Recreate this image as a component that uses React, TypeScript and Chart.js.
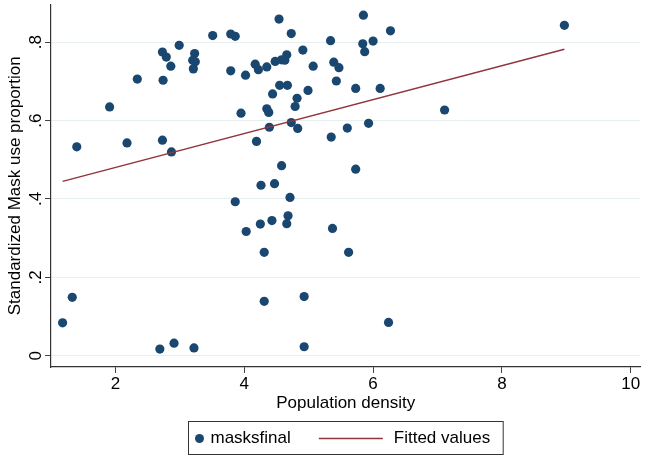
import React, { useEffect, useRef } from "react";
import { Chart, registerables } from "chart.js";

Chart.register(...registerables);

const FONT = "'Liberation Sans', Arial, Helvetica, sans-serif";

// Population density (x) and standardized mask use proportion (y)
const densityX = [
  1.40, 1.91, 2.18, 2.34, 2.73, 2.87, 2.74, 2.73, 2.79, 2.86, 2.99, 3.23, 3.20, 3.24, 3.21, 3.51,
  3.79, 3.86, 4.54, 4.73, 5.34, 5.85, 5.84, 6.00, 6.27, 5.87, 4.91, 4.66, 4.63, 4.58, 4.48, 4.35,
  4.22, 4.17, 3.79, 4.02, 5.07, 5.39, 5.47, 5.43, 4.55, 4.67, 4.44, 4.99, 4.82, 4.79, 5.73, 6.11,
  3.95, 4.35, 4.38, 4.39, 4.73, 4.83, 4.19, 5.35, 5.60, 5.93, 4.58, 5.73, 4.26, 4.47, 4.71, 3.86,
  4.68, 4.43, 4.25, 4.66, 4.03, 5.37, 4.31, 5.62, 4.93, 4.31, 6.24, 4.93,
  1.18, 1.33, 2.69, 2.91, 3.22, 8.97, 7.11,
];
const maskY = [
  0.533, 0.635, 0.543, 0.706, 0.550, 0.520, 0.703, 0.775, 0.762, 0.739, 0.792, 0.771, 0.754, 0.750, 0.732, 0.817,
  0.821, 0.815, 0.859, 0.822, 0.804, 0.869, 0.796, 0.803, 0.829, 0.776, 0.780, 0.768, 0.754, 0.755, 0.751, 0.737,
  0.730, 0.744, 0.727, 0.716, 0.739, 0.749, 0.735, 0.701, 0.690, 0.690, 0.668, 0.677, 0.657, 0.636, 0.682, 0.682,
  0.619, 0.630, 0.621, 0.583, 0.595, 0.580, 0.547, 0.558, 0.581, 0.593, 0.485, 0.476, 0.435, 0.439, 0.404, 0.393,
  0.357, 0.345, 0.336, 0.337, 0.317, 0.325, 0.264, 0.264, 0.151, 0.139, 0.085, 0.023,
  0.084, 0.149, 0.017, 0.032, 0.020, 0.843, 0.627,
];

// Fitted values line (end points)
const fitX = [1.18, 8.97];
const fitY = [0.445, 0.782];

const xTicks = [2, 4, 6, 8, 10];
const xTickLabels = ["2", "4", "6", "8", "10"];
const yTicks = [0, 0.2, 0.4, 0.6, 0.8];
const yTickLabels = ["0", ".2", ".4", ".6", ".8"];
const seriesLabels = ["masksfinal", "Fitted values"];
const xTitle = "Population density";
const yTitle = "Standardized Mask use proportion";

const NAVY = "#1a476f";
const MAROON = "#90353b";

const legendPlugin = {
  id: "stataLegend",
  afterDraw(chart: any) {
    const ctx = chart.ctx as CanvasRenderingContext2D;
    const area = chart.chartArea;
    const ds0 = chart.data.datasets[0];
    const ds1 = chart.data.datasets[1];
    ctx.save();
    ctx.font = `17px ${FONT}`;
    const w1 = ctx.measureText(ds0.label).width;
    const w2 = ctx.measureText(ds1.label).width;
    const padL = 6.5, markerD = 9, gap1 = 6.5, gap2 = 28, lineW = 64, gap3 = 11, padR = 13;
    const total = padL + markerD + gap1 + w1 + gap2 + lineW + gap3 + w2 + padR;
    const cx = (area.left + area.right) / 2;
    const left = Math.round(cx - total / 2) + 0.5;
    const top = chart.height - 35.5;
    const h = 33;
    const cy = top + h / 2 + 0.5;
    ctx.strokeStyle = "#333";
    ctx.lineWidth = 1;
    ctx.strokeRect(left, top, total, h);
    let x = left + padL;
    ctx.fillStyle = ds0.backgroundColor;
    ctx.beginPath();
    ctx.arc(x + markerD / 2, cy, markerD / 2, 0, Math.PI * 2);
    ctx.fill();
    x += markerD + gap1;
    ctx.fillStyle = "#000";
    ctx.textBaseline = "middle";
    ctx.textAlign = "left";
    ctx.fillText(ds0.label, x, cy);
    x += w1 + gap2;
    ctx.strokeStyle = ds1.borderColor;
    ctx.lineWidth = 1.5;
    ctx.beginPath();
    ctx.moveTo(x, cy);
    ctx.lineTo(x + lineW, cy);
    ctx.stroke();
    x += lineW + gap3;
    ctx.fillText(ds1.label, x, cy);
    ctx.restore();
  },
};

export default function App() {
  const ref = useRef<HTMLCanvasElement | null>(null);

  useEffect(() => {
    if (!ref.current) return;
    Chart.defaults.font.family = FONT;
    Chart.defaults.font.size = 17;
    Chart.defaults.color = "#000";

    const points = densityX.map((x, i) => ({ x, y: maskY[i] }));
    const fit = fitX.map((x, i) => ({ x, y: fitY[i] }));

    const chart = new Chart(ref.current, {
      type: "scatter",
      data: {
        datasets: [
          {
            label: seriesLabels[0],
            data: points,
            backgroundColor: NAVY,
            borderColor: NAVY,
            borderWidth: 0,
            pointRadius: 4.6,
            pointHoverRadius: 4.6,
            order: 1,
          } as any,
          {
            type: "line",
            label: seriesLabels[1],
            data: fit,
            borderColor: MAROON,
            backgroundColor: MAROON,
            borderWidth: 1.5,
            pointRadius: 0,
            showLine: true,
            fill: false,
            order: 0,
          } as any,
        ],
      },
      options: {
        responsive: false,
        animation: false,
        events: [],
        layout: { padding: { left: 0, right: 3, top: 3, bottom: 40 } },
        plugins: {
          legend: { display: false },
          tooltip: { enabled: false },
        },
        scales: {
          x: {
            type: "linear",
            min: 1.0,
            max: 10.15,
            afterBuildTicks: (s: any) => {
              s.ticks = xTicks.map((v) => ({ value: v }));
            },
            afterFit: (s: any) => {
              s.height = 50;
              s.paddingLeft = 0;
              s.paddingRight = 0;
            },
            ticks: {
              padding: 1,
              maxRotation: 0,
              minRotation: 0,
              callback: (v: any) => {
                const i = xTicks.indexOf(Number(v));
                return i >= 0 ? xTickLabels[i] : "";
              },
            },
            grid: {
              drawOnChartArea: false,
              drawTicks: true,
              tickLength: 6,
              tickColor: "#444",
              tickWidth: 1,
            },
            border: { display: true, color: "#333", width: 1.2 },
            title: {
              display: true,
              text: xTitle,
              padding: { top: 0, bottom: 3 },
              font: { size: 17 },
            },
          },
          y: {
            type: "linear",
            min: -0.0287,
            max: 0.896,
            afterBuildTicks: (s: any) => {
              s.ticks = yTicks.map((v) => ({ value: v }));
            },
            afterFit: (s: any) => {
              s.width = 51;
              s.paddingTop = 0;
              s.paddingBottom = 0;
            },
            ticks: {
              padding: 2,
              minRotation: 90,
              maxRotation: 90,
              crossAlign: "center",
              callback: (v: any) => {
                const i = yTicks.findIndex((t) => Math.abs(t - Number(v)) < 1e-9);
                return i >= 0 ? yTickLabels[i] : "";
              },
            },
            grid: {
              color: "#e6eef0",
              lineWidth: 1,
              drawTicks: true,
              tickLength: 6,
              tickColor: "#444",
              tickWidth: 1,
            },
            border: { display: true, color: "#333", width: 1.2 },
            title: {
              display: true,
              text: yTitle,
              padding: { top: 5, bottom: 0 },
              font: { size: 17 },
            },
          },
        },
      },
      plugins: [legendPlugin],
    } as any);

    return () => chart.destroy();
  }, []);

  return (
    <div
      style={{
        position: "fixed",
        left: 0,
        top: 0,
        width: 645,
        height: 457,
        background: "#fff",
      }}
    >
      <canvas ref={ref} width={645} height={457} style={{ width: 645, height: 457 }} />
    </div>
  );
}
